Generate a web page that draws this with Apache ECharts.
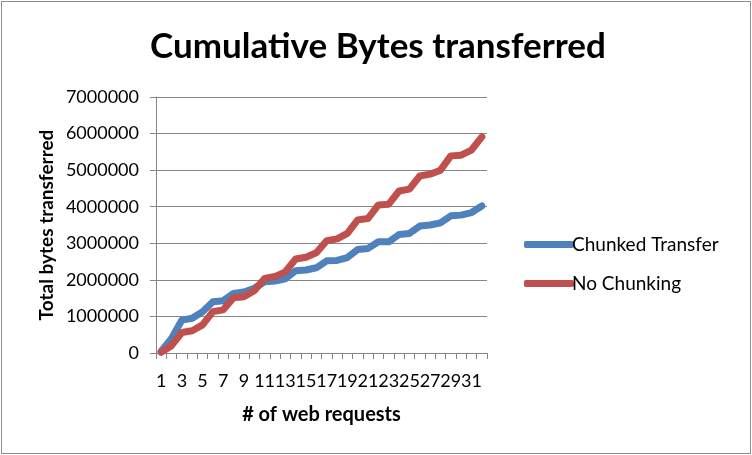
<!DOCTYPE html>
<html>
<head>
<meta charset="utf-8">
<script src="https://cdn.jsdelivr.net/npm/echarts@6/dist/echarts.min.js"></script>
<style>
html,body{margin:0;padding:0;background:#fff;}
#frame{position:absolute;left:1px;top:1px;width:748px;height:451px;border:1px solid #8c8c8c;}
#chart{position:absolute;left:0;top:0;width:752px;height:455px;}
</style>
</head>
<body>
<div id="frame"></div>
<div id="chart"></div>
<script>
var categories = [];
for (var i = 1; i <= 32; i++) categories.push(String(i));
var chunked = [50000, 400000, 900000, 950000, 1130000, 1400000, 1430000, 1630000, 1670000, 1770000, 1950000, 1970000, 2030000, 2250000, 2270000, 2330000, 2520000, 2530000, 2610000, 2830000, 2860000, 3040000, 3040000, 3240000, 3270000, 3470000, 3500000, 3560000, 3750000, 3770000, 3840000, 4020000];
var noChunking = [20000, 200000, 560000, 610000, 770000, 1130000, 1180000, 1510000, 1540000, 1700000, 2040000, 2090000, 2220000, 2570000, 2620000, 2740000, 3070000, 3120000, 3270000, 3640000, 3680000, 4050000, 4070000, 4430000, 4480000, 4840000, 4890000, 5000000, 5390000, 5410000, 5550000, 5910000];
var seriesNames = ['Chunked Transfer', 'No Chunking'];
var yTicks = {min: 0, max: 7000000, interval: 1000000};

var font = 'Lato, "Open Sans", "DejaVu Sans", sans-serif';
var chart = echarts.init(document.getElementById('chart'), null, {renderer: 'canvas'});
chart.setOption({
  animation: false,
  backgroundColor: 'transparent',
  title: {
    text: 'Cumulative Bytes transferred',
    left: 373, top: 24, textAlign: 'center',
    textStyle: {fontFamily: font, fontWeight: 'bold', fontSize: 35, color: '#000'}
  },
  legend: {
    orient: 'vertical',
    left: 519, top: 230,
    itemGap: 20,
    itemWidth: 50, itemHeight: 7,
    icon: 'roundRect',
    data: seriesNames,
    textStyle: {fontFamily: font, fontSize: 19, color: '#000', padding: [0, 0, 0, -7]}
  },
  grid: {left: 156, right: 265, top: 97, bottom: 102, containLabel: false},
  xAxis: {
    type: 'category',
    data: categories,
    boundaryGap: true,
    name: '# of web requests',
    nameLocation: 'middle',
    nameGap: 52,
    nameTextStyle: {fontFamily: font, fontWeight: 'bold', fontSize: 20, color: '#000'},
    axisLine: {lineStyle: {color: '#868686', width: 1}},
    axisTick: {show: true, interval: 0, length: 6, lineStyle: {color: '#868686'}},
    axisLabel: {interval: 1, fontFamily: font, fontSize: 18, color: '#000', margin: 19},
    splitLine: {show: false}
  },
  yAxis: {
    type: 'value',
    min: yTicks.min, max: yTicks.max, interval: yTicks.interval,
    name: 'Total bytes transferred',
    nameLocation: 'middle',
    nameGap: 100,
    nameRotate: 90,
    nameTextStyle: {fontFamily: font, fontWeight: 'bold', fontSize: 19, color: '#000'},
    axisLine: {show: true, lineStyle: {color: '#868686', width: 1}},
    axisTick: {show: true, length: 6, lineStyle: {color: '#868686'}},
    axisLabel: {fontFamily: font, fontSize: 18, color: '#000', margin: 17, formatter: function (v) { return String(v); }},
    splitLine: {show: true, lineStyle: {color: '#868686', width: 1}}
  },
  series: [
    {name: seriesNames[0], type: 'line', data: chunked, showSymbol: false, symbol: 'none',
     lineStyle: {color: '#4F81BD', width: 7, join: 'round', cap: 'round'}, itemStyle: {color: '#4F81BD'}},
    {name: seriesNames[1], type: 'line', data: noChunking, showSymbol: false, symbol: 'none',
     lineStyle: {color: '#C0504D', width: 7, join: 'round', cap: 'round'}, itemStyle: {color: '#C0504D'}}
  ]
});
</script>
</body>
</html>
